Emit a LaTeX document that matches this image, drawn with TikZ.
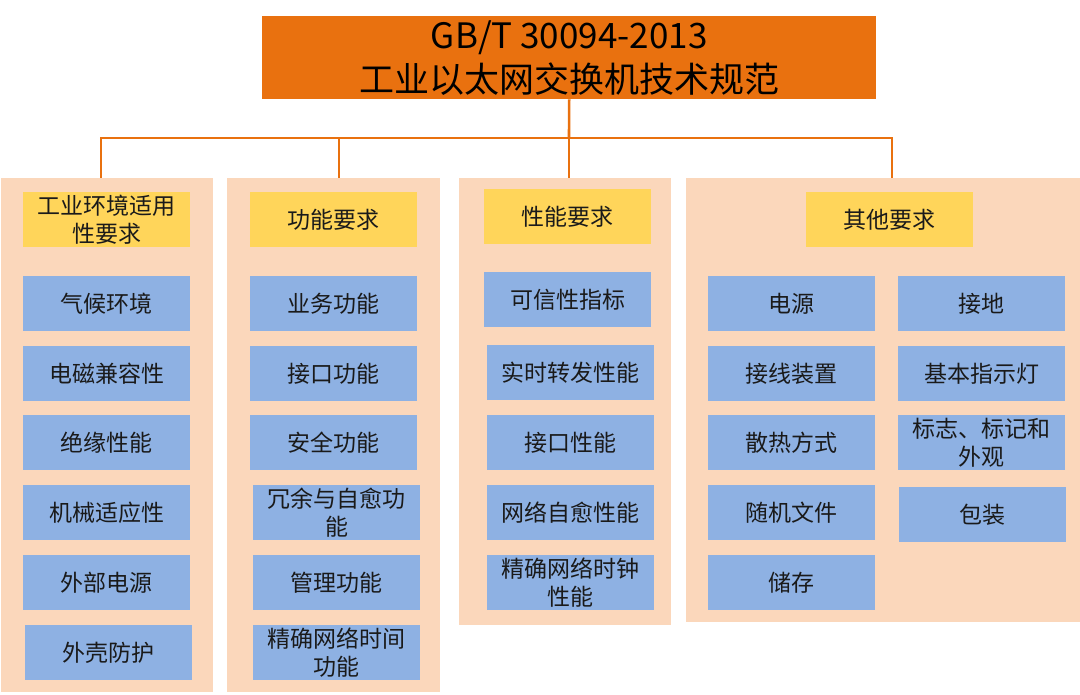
\documentclass[tikz,border=0pt]{standalone}
\usepackage{fontspec}
\setmainfont{Noto Sans CJK SC}
\definecolor{orng}{HTML}{E9710F}
\definecolor{peach}{HTML}{FBD7BB}
\definecolor{yell}{HTML}{FFD55A}
\definecolor{blu}{HTML}{8EB1E3}
\definecolor{txt}{HTML}{1A1A1A}
\begin{document}
\begin{tikzpicture}[x=1pt,y=-1pt,
  col/.style={fill=peach, draw=none, anchor=north west, inner sep=0pt},
  boxbase/.style={anchor=north west, minimum width=167pt, minimum height=55pt, inner sep=0pt, align=center, text=txt, font=\fontsize{23}{28}\selectfont},
  hdr/.style={boxbase, fill=yell},
  item/.style={boxbase, fill=blu},
  conn/.style={draw=orng, line width=2.6pt}]
\useasboundingbox (0,0) rectangle (1080,695);
\fill[white] (0,0) rectangle (1080,695);

% title
\node[fill=orng, anchor=north west, minimum width=614pt, minimum height=83pt, inner sep=0pt, align=center, text=black, font=\fontsize{35}{44}\selectfont] (top) at (262,16) {GB/T 30094-2013\\工业以太网交换机技术规范};

% columns
\node[col, minimum width=212pt, minimum height=514pt] (c1) at (1,178) {};
\node[col, minimum width=213pt, minimum height=514pt] (c2) at (227,178) {};
\node[col, minimum width=212pt, minimum height=447pt] (c3) at (459,178) {};
\node[col, minimum width=394pt, minimum height=444pt] (c4) at (686,178) {};

% connectors
\coordinate (bus) at (569,138);
\coordinate (j1) at (101,138);
\coordinate (j2) at (339,138);
\coordinate (j3) at (569,138);
\coordinate (j4) at (892,138);
\draw[conn] (top.south) -- (bus);
\draw[conn, line cap=rect] (j1) -- (j4);
\draw[conn] (j1) -- (j1 |- c1.north);
\draw[conn] (j2) -- (j2 |- c2.north);
\draw[conn] (j3) -- (j3 |- c3.north);
\draw[conn] (j4) -- (j4 |- c4.north);

% headers
\node[hdr] (h1) at (23,192) {工业环境适用\\性要求};
\node[hdr] (h2) at (250,192) {功能要求};
\node[hdr] (h3) at (484,189) {性能要求};
\node[hdr] (h4) at (806,192) {其他要求};

% column 1
\node[item] (a1) at (23,276) {气候环境};
\node[item] (a2) at (23,346) {电磁兼容性};
\node[item] (a3) at (23,415) {绝缘性能};
\node[item] (a4) at (23,485) {机械适应性};
\node[item] (a5) at (23,555) {外部电源};
\node[item] (a6) at (25,625) {外壳防护};

% column 2
\node[item] (b1) at (250,276) {业务功能};
\node[item] (b2) at (250,346) {接口功能};
\node[item] (b3) at (250,415) {安全功能};
\node[item] (b4) at (253,485) {冗余与自愈功\\能};
\node[item] (b5) at (253,555) {管理功能};
\node[item] (b6) at (253,625) {精确网络时间\\功能};

% column 3
\node[item] (d1) at (484,272) {可信性指标};
\node[item] (d2) at (487,345) {实时转发性能};
\node[item] (d3) at (487,415) {接口性能};
\node[item] (d4) at (487,485) {网络自愈性能};
\node[item] (d5) at (487,555) {精确网络时钟\\性能};

% column 4
\node[item] (e1) at (708,276) {电源};
\node[item] (e2) at (708,346) {接线装置};
\node[item] (e3) at (708,415) {散热方式};
\node[item] (e4) at (708,485) {随机文件};
\node[item] (e5) at (708,555) {储存};
\node[item] (f1) at (898,276) {接地};
\node[item] (f2) at (898,346) {基本指示灯};
\node[item] (f3) at (898,415) {标志、标记和\\外观};
\node[item] (f4) at (899,487) {包装};
\end{tikzpicture}
\end{document}
